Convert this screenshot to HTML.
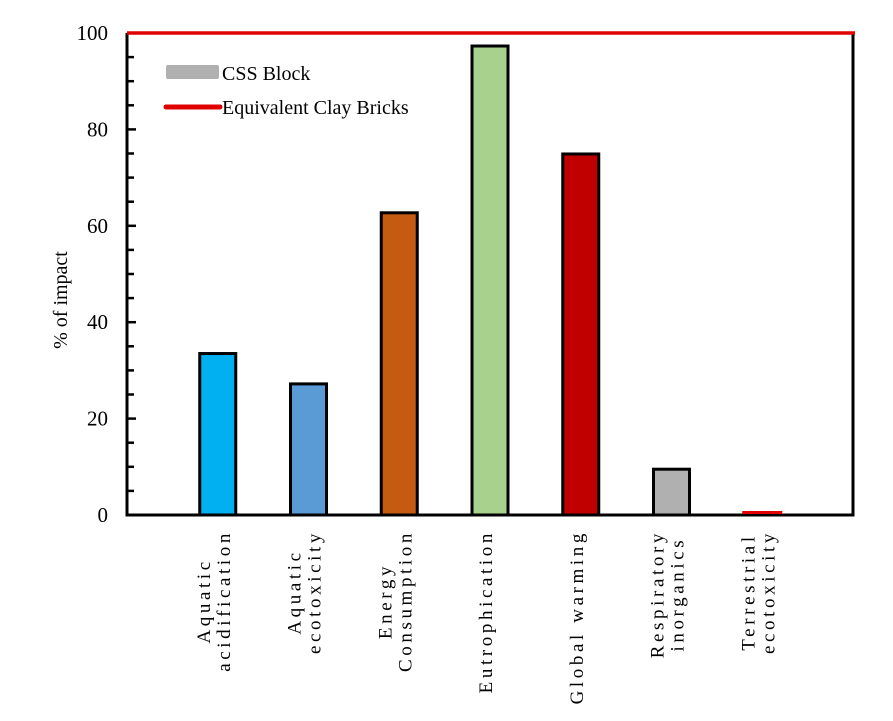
<!DOCTYPE html>
<html><head><meta charset="utf-8"><style>
body{margin:0;background:#fff}
svg{display:block;font-family:"Liberation Serif",serif}
</style></head><body>
<svg id="chart" width="893" height="721" viewBox="0 0 893 721">
<g id="axes"></g><g id="bars"></g><g id="labels"></g>
<g>
<rect x="166" y="65" width="53" height="14" rx="2" fill="#b0b0b0"/>
<text x="222" y="80" font-size="20">CSS Block</text>
<line x1="166" y1="107" x2="220" y2="107" stroke="#e00000" stroke-width="5" stroke-linecap="round"/>
<text x="222" y="114" font-size="20">Equivalent Clay Bricks</text>
</g>
<text transform="translate(67,300) rotate(-90)" text-anchor="middle" font-size="20">% of impact</text>
</svg>
<script>
const categories=[["Aquatic","acidification"],["Aquatic","ecotoxicity"],["Energy","Consumption"],["Eutrophication"],["Global warming"],["Respiratory","inorganics"],["Terrestrial","ecotoxicity"]];
const values=[33.5,27.2,62.7,97.3,74.9,9.5,0.6];
const colors=["#00b0f0","#5b9bd5","#c55a11","#a9d18e","#c00000","#b0b0b0","#e00000"];
const yTicks=[0,20,40,60,80,100];
const referenceValue=[100];
const NS="http://www.w3.org/2000/svg";
const L=127,R=853,T=33,B=515,ymax=100;
const y=v=>B-(v/ymax)*(B-T);
const slot=(R-L)/(categories.length+1);
const x=i=>L+slot*(i+1);
function mk(tag,attrs,parent){const e=document.createElementNS(NS,tag);for(const k in attrs)e.setAttribute(k,attrs[k]);parent.appendChild(e);return e;}
const axes=document.getElementById('axes'),bars=document.getElementById('bars'),labels=document.getElementById('labels');
for(let v=0;v<=ymax;v+=5){
 const t=mk('line',{x1:L,x2:L+(v%20===0?9:7),y1:y(v),y2:y(v),stroke:'#000','stroke-width':2.5},axes);
 
 
}
yTicks.forEach(v=>{
 const t=mk('text',{x:108,y:y(v)+7,'text-anchor':'end','font-size':21},axes);t.textContent=v;
 
 
});
const ya=mk('line',{x1:L,x2:L,y1:T,y2:B+1.5,stroke:'#000','stroke-width':3},axes);


const xa=mk('line',{x1:L-1,x2:R+1.5,y1:B,y2:B,stroke:'#000','stroke-width':3},axes);


const rb=mk('line',{x1:R,x2:R,y1:T,y2:B,stroke:'#000','stroke-width':3},axes);


values.forEach((v,i)=>{
 const w=36,last=i===values.length-1;
 const r=mk('rect',{x:x(i)-w/2,y:y(v),width:w,height:B-y(v),fill:colors[i],stroke:last?'none':'#000','stroke-width':3},bars);
 if(last){r.setAttribute('x',x(i)-20);r.setAttribute('width',40);r.setAttribute('y',B-4);r.setAttribute('height',3);}
 
 
});
const refL=mk('line',{x1:L,x2:R+2,y1:y(referenceValue[0]),y2:y(referenceValue[0]),stroke:'#e00000','stroke-width':3.5},axes);


categories.forEach((lines,i)=>{
 const g=mk('g',{},labels);
 
 
 const n=lines.length;
 const ts=lines.map((s,j)=>{
  const t=mk('text',{'font-size':19,'letter-spacing':'3.6','text-anchor':'middle',x:0,y:0},g);
  t.style.whiteSpace='pre';t.textContent=s;return t;});
 const maxLen=Math.max(...ts.map(t=>t.getComputedTextLength()));
 ts.forEach((t,j)=>{
  const cx=x(i)+(j-(n-1)/2)*20+2;
  const cy=530+maxLen/2;
  t.setAttribute('transform','translate('+cx+','+cy+') rotate(-90)');
 });
});
</script>
</body></html>
